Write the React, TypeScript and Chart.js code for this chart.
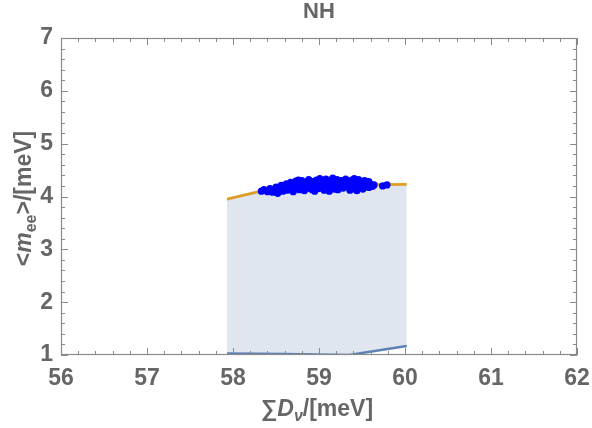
import React, { useEffect, useRef } from 'react';
import { Chart, registerables } from 'chart.js';

Chart.register(...registerables);

const chartTitle = 'NH';
const xMin = 56;
const xMax = 62;
const yMin = 1;
const yMax = 7;
const xTickValues = [56, 57, 58, 59, 60, 61, 62];
const yTickValues = [1, 2, 3, 4, 5, 6, 7];

// upper boundary (orange)
const upperX = [57.93, 58.3, 58.8, 59.5, 60.02];
const upperY = [3.95, 4.09, 4.17, 4.22, 4.23];

// lower boundary (blue)
const lowerX = [57.93, 58.6, 59.35, 60.02];
const lowerY = [1.03, 1.02, 1.0, 1.17];

// scatter points [x, y]
const scatterPoints: [number, number][] = [
  [58.33, 4.10], [58.36, 4.13], [58.40, 4.09], [58.43, 4.15], [58.46, 4.08], [58.48, 4.12],
  [58.50, 4.18], [58.52, 4.06], [58.54, 4.14], [58.56, 4.21], [58.58, 4.10], [58.60, 4.17],
  [58.62, 4.24], [58.63, 4.12], [58.65, 4.20], [58.67, 4.27], [58.68, 4.15], [58.70, 4.09],
  [58.72, 4.22], [58.73, 4.29], [58.75, 4.18], [58.77, 4.13], [58.78, 4.25], [58.80, 4.30],
  [58.82, 4.20], [58.83, 4.11], [58.85, 4.27], [58.87, 4.16], [58.88, 4.32], [58.90, 4.22],
  [58.92, 4.13], [58.93, 4.28], [58.95, 4.19], [58.97, 4.31], [58.98, 4.24], [59.00, 4.15],
  [59.01, 4.34], [59.03, 4.21], [59.05, 4.28], [59.06, 4.12], [59.08, 4.33], [59.10, 4.25],
  [59.11, 4.18], [59.13, 4.30], [59.15, 4.22], [59.16, 4.35], [59.18, 4.14], [59.20, 4.27],
  [59.21, 4.32], [59.23, 4.20], [59.25, 4.25], [59.26, 4.30], [59.28, 4.16], [59.30, 4.23],
  [59.31, 4.33], [59.33, 4.19], [59.35, 4.28], [59.36, 4.12], [59.38, 4.31], [59.40, 4.22],
  [59.41, 4.34], [59.43, 4.17], [59.45, 4.27], [59.46, 4.32], [59.48, 4.20], [59.50, 4.25],
  [59.51, 4.14], [59.53, 4.30], [59.55, 4.21], [59.56, 4.26], [59.58, 4.17], [59.60, 4.23],
  [59.62, 4.19], [59.64, 4.22], [59.74, 4.20], [59.79, 4.22],
  [58.70, 4.19], [58.82, 4.26], [58.95, 4.10], [59.05, 4.20], [59.18, 4.24], [59.28, 4.29],
  [59.40, 4.15], [59.47, 4.24], [59.52, 4.19], [59.58, 4.28], [58.90, 4.16], [59.12, 4.10],
  [59.33, 4.26], [59.44, 4.11], [58.76, 4.31], [59.00, 4.27], [59.22, 4.13], [59.37, 4.25],
  [58.64, 4.14], [58.86, 4.21],
];

const textColor = '#666666';
const frameColor = '#8a8a8a';
const FONT = '"Liberation Sans", Arial, sans-serif';

type Seg = { t: string; italic?: boolean; sub?: boolean };
const xTitleSegs: Seg[] = [
  { t: '∑' },
  { t: 'D', italic: true },
  { t: 'ν', italic: true, sub: true },
  { t: '/[meV]' },
];
const yTitleSegs: Seg[] = [
  { t: '<' },
  { t: 'm', italic: true },
  { t: 'ee', sub: true },
  { t: '>/[meV]' },
];

function segFont(s: Seg) {
  const size = s.sub ? 16 : 23;
  return `${s.italic ? 'italic ' : ''}bold ${size}px ${FONT}`;
}

function drawRich(ctx: CanvasRenderingContext2D, segs: Seg[], cx: number, cy: number) {
  let total = 0;
  const widths = segs.map((s) => {
    ctx.font = segFont(s);
    const w = ctx.measureText(s.t).width;
    total += w;
    return w;
  });
  let x = cx - total / 2;
  ctx.textBaseline = 'alphabetic';
  ctx.textAlign = 'left';
  ctx.fillStyle = textColor;
  segs.forEach((s, i) => {
    ctx.font = segFont(s);
    ctx.fillText(s.t, x, cy + (s.sub ? 5 : 0));
    x += widths[i];
  });
}

const framePlugin = {
  id: 'framePlugin',
  afterDraw(chart: any) {
    const ctx: CanvasRenderingContext2D = chart.ctx;
    const { left, right, top, bottom } = chart.chartArea;
    const xs = chart.scales.x;
    const ys = chart.scales.y;
    ctx.save();
    ctx.strokeStyle = frameColor;
    ctx.lineWidth = 1.2;
    ctx.strokeRect(left + 0.5, top + 0.5, right - left - 1, bottom - top - 1);
    ctx.lineWidth = 1;
    ctx.beginPath();
    for (let i = 0; i <= (xMax - xMin) * 5; i++) {
      const v = xMin + i * 0.2;
      const major = i % 5 === 0;
      const len = major ? 7 : 4;
      const px = Math.round(xs.getPixelForValue(v)) + 0.5;
      ctx.moveTo(px, bottom);
      ctx.lineTo(px, bottom - len);
      ctx.moveTo(px, top);
      ctx.lineTo(px, top + len);
    }
    for (let i = 0; i <= (yMax - yMin) * 5; i++) {
      const v = yMin + i * 0.2;
      const major = i % 5 === 0;
      const len = major ? 7 : 4;
      const py = Math.round(ys.getPixelForValue(v)) + 0.5;
      ctx.moveTo(left, py);
      ctx.lineTo(left + len, py);
      ctx.moveTo(right, py);
      ctx.lineTo(right - len, py);
    }
    ctx.stroke();

    // title
    ctx.fillStyle = textColor;
    ctx.font = `bold 22px ${FONT}`;
    ctx.textAlign = 'center';
    ctx.textBaseline = 'middle';
    ctx.fillText(chartTitle, (left + right) / 2, 12);

    // x title
    drawRich(ctx, xTitleSegs, (left + right) / 2 - 2, 416);

    // y title
    ctx.save();
    ctx.translate(31, (top + bottom) / 2 + 2);
    ctx.rotate(-Math.PI / 2);
    drawRich(ctx, yTitleSegs, 0, 0);
    ctx.restore();
    ctx.restore();
  },
};

export default function App() {
  const ref = useRef<HTMLCanvasElement | null>(null);
  useEffect(() => {
    if (!ref.current) return;
    const upper = upperX.map((x, i) => ({ x, y: upperY[i] }));
    const lower = lowerX.map((x, i) => ({ x, y: lowerY[i] }));
    const pts = scatterPoints.map(([x, y]) => ({ x, y }));
    const chart = new Chart(ref.current, {
      type: 'scatter',
      data: {
        datasets: [
          {
            type: 'scatter',
            data: pts,
            backgroundColor: '#0000ff',
            borderColor: '#0000ff',
            pointRadius: 3.6,
            borderWidth: 0,
            order: 0,
          } as any,
          {
            type: 'line',
            data: lower,
            borderColor: '#5e81b5',
            borderWidth: 2.5,
            pointRadius: 0,
            fill: false,
            tension: 0,
            order: 2,
          } as any,
          {
            type: 'line',
            data: upper,
            borderColor: '#e19c24',
            borderWidth: 2.8,
            pointRadius: 0,
            fill: { target: 1 },
            backgroundColor: 'rgba(94,129,181,0.2)',
            tension: 0,
            order: 1,
          } as any,
        ],
      },
      options: {
        animation: false,
        responsive: false,
        events: [],
        layout: { padding: { top: 38, right: 15, left: 0, bottom: 0 } },
        plugins: { legend: { display: false }, tooltip: { enabled: false }, title: { display: false } },
        scales: {
          x: {
            type: 'linear',
            min: xMin,
            max: xMax,
            afterBuildTicks: (s: any) => {
              s.ticks = xTickValues.map((v) => ({ value: v }));
            },
            afterFit: (s: any) => {
              s.height = 73;
              s.paddingLeft = 0;
              s.paddingRight = 0;
            },
            grid: { display: false, drawTicks: false },
            border: { display: false },
            ticks: { color: textColor, font: { size: 23, weight: 'bold', family: FONT }, padding: 10, maxRotation: 0 },
          },
          y: {
            type: 'linear',
            min: yMin,
            max: yMax,
            afterBuildTicks: (s: any) => {
              s.ticks = yTickValues.map((v) => ({ value: v }));
            },
            afterFit: (s: any) => {
              s.width = 61;
              s.paddingTop = 0;
              s.paddingBottom = 0;
            },
            grid: { display: false, drawTicks: false },
            border: { display: false },
            ticks: { color: textColor, font: { size: 23, weight: 'bold', family: FONT }, padding: 8 },
          },
        },
      } as any,
      plugins: [framePlugin],
    });
    return () => chart.destroy();
  }, []);
  return (
    <div style={{ position: 'absolute', left: 0, top: 0 }}>
      <canvas ref={ref} width={592} height={428} style={{ display: 'block' }} />
    </div>
  );
}
